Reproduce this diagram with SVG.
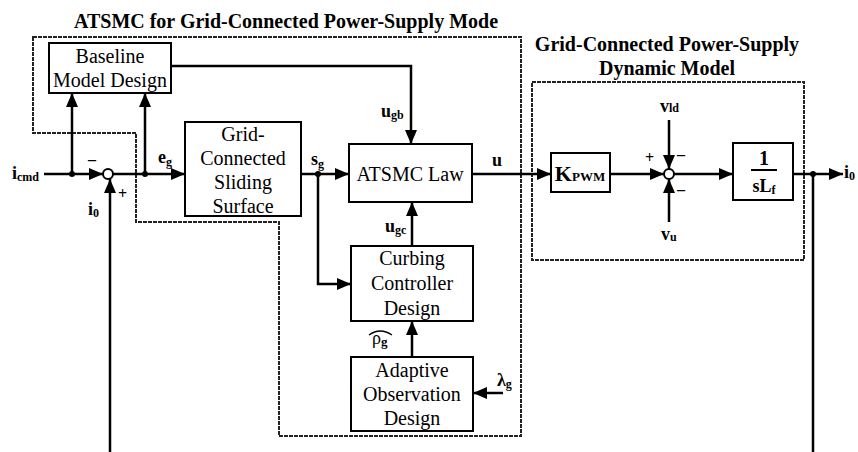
<svg xmlns="http://www.w3.org/2000/svg" width="858" height="452" viewBox="0 0 858 452">
<style>
text{font-family:"Liberation Serif","Times New Roman",serif;fill:#000}
.blk{font-size:20px;text-anchor:middle}
.ttl{font-size:20px;font-weight:bold;text-anchor:middle}
.lbl{font-size:18px;font-weight:bold}
.sub{font-size:12px}
.box{fill:#fff;stroke:#000;stroke-width:2}
.dash{fill:none;stroke:#222;stroke-width:2;stroke-dasharray:4 1}
.wire{fill:none;stroke:#000;stroke-width:2.5}
.arr{fill:none;stroke:#000;stroke-width:2.5;marker-end:url(#ah)}
.sum{fill:#fff;stroke:#000;stroke-width:2}
</style>
<defs>
<marker id="ah" markerUnits="userSpaceOnUse" markerWidth="14" markerHeight="12" viewBox="0 0 14 12" refX="14" refY="6" orient="auto">
<path d="M0,0 L14,6 L0,12 Z" fill="#000"/>
</marker>
</defs>

<g id="frames">
<path class="dash" d="M33,37 H521 V436 H279 V222 H136 V133 H33 Z"/>
<rect class="dash" x="532" y="82" width="272" height="178"/>
<text class="ttl" x="286" y="28">ATSMC for Grid-Connected Power-Supply Mode</text>
<text class="ttl" x="667" y="51">Grid-Connected Power-Supply</text>
<text class="ttl" x="667" y="75">Dynamic Model</text>
</g>

<g id="connectors">
<path class="arr" d="M44,174 H103"/>
<path class="arr" d="M72,174 V93"/>
<path class="arr" d="M145,174 V93"/>
<path class="arr" d="M113,174 H185"/>
<path class="arr" d="M110,452 V179"/>
<path class="arr" d="M171,66 H411 V144"/>
<path class="arr" d="M301,174 H349"/>
<path class="arr" d="M318,174 V284 H351"/>
<path class="arr" d="M412,246 V202"/>
<path class="arr" d="M412,357 V321"/>
<path class="arr" d="M503,393 H473"/>
<path class="arr" d="M472,174 H551"/>
<path class="arr" d="M610,174 H664"/>
<path class="arr" d="M669,120 V169"/>
<path class="arr" d="M669,222 V179"/>
<path class="arr" d="M674,174 H733"/>
<path class="arr" d="M793,174 H843"/>
<path class="wire" d="M813,174 V452"/>
<circle cx="72" cy="174" r="3" fill="#000"/>
<circle cx="145" cy="174" r="3" fill="#000"/>
<circle cx="318" cy="174" r="3" fill="#000"/>
<circle cx="813" cy="174" r="3" fill="#000"/>
</g>

<g id="sum1">
<circle class="sum" cx="108" cy="174" r="5"/>
<text class="lbl" x="88" y="165" style="font-size:16px">–</text>
<text class="lbl" x="118" y="199" style="font-size:16px">+</text>
</g>

<g id="sum2">
<circle class="sum" cx="669" cy="174" r="5"/>
<text class="lbl" x="645" y="163" style="font-size:16px">+</text>
<text class="lbl" x="677" y="160" style="font-size:16px">–</text>
<text class="lbl" x="677" y="195" style="font-size:16px">–</text>
</g>

<g id="baseline">
<rect class="box" x="49" y="43" width="122" height="50"/>
<text class="blk" x="110" y="63">Baseline</text>
<text class="blk" x="110" y="87">Model Design</text>
</g>

<g id="sliding">
<rect class="box" x="185" y="122" width="116" height="94"/>
<text class="blk" x="243" y="141">Grid-</text>
<text class="blk" x="243" y="165">Connected</text>
<text class="blk" x="243" y="189">Sliding</text>
<text class="blk" x="243" y="213">Surface</text>
</g>

<g id="atsmc">
<rect class="box" x="349" y="144" width="123" height="58"/>
<text class="blk" x="410" y="181">ATSMC Law</text>
</g>

<g id="curbing">
<rect class="box" x="351" y="246" width="122" height="75"/>
<text class="blk" x="412" y="265">Curbing</text>
<text class="blk" x="412" y="290">Controller</text>
<text class="blk" x="412" y="315">Design</text>
</g>

<g id="adaptive">
<rect class="box" x="351" y="357" width="122" height="74"/>
<text class="blk" x="412" y="377">Adaptive</text>
<text class="blk" x="412" y="401">Observation</text>
<text class="blk" x="412" y="425">Design</text>
</g>

<g id="kpwm">
<rect class="box" x="551" y="153" width="59" height="39"/>
<text x="580" y="181" style="font-size:22px;font-weight:bold;text-anchor:middle">K<tspan style="font-size:13px">PWM</tspan></text>
</g>

<g id="plant">
<rect class="box" x="733" y="143" width="60" height="57"/>
<text x="764" y="165" style="font-size:20px;font-weight:bold;text-anchor:middle">1</text>
<line x1="751" y1="170" x2="777" y2="170" stroke="#000" stroke-width="2"/>
<text x="764" y="192" style="font-size:18px;font-weight:bold;text-anchor:middle">sL<tspan class="sub" dy="2">f</tspan></text>
</g>

<g id="labels">
<text class="lbl" x="12" y="179">i<tspan class="sub" dy="2">cmd</tspan></text>
<text class="lbl" x="88" y="215">i<tspan class="sub" dy="2">0</tspan></text>
<text class="lbl" x="158" y="163">e<tspan class="sub" dy="3">g</tspan></text>
<text class="lbl" x="311" y="165">s<tspan class="sub" dy="3">g</tspan></text>
<text class="lbl" x="381" y="117">u<tspan class="sub" dy="2">gb</tspan></text>
<text class="lbl" x="492" y="166">u</text>
<text class="lbl" x="385" y="232">u<tspan class="sub" dy="2">gc</tspan></text>
<text x="372" y="344" style="font-size:18px">ρ<tspan style="font-size:13px;font-weight:bold" dy="2">g</tspan></text>
<path d="M369,335 Q380,327 392,335" fill="none" stroke="#000" stroke-width="1.3"/>
<text class="lbl" x="497" y="386">λ<tspan class="sub" dy="2">g</tspan></text>
<text class="lbl" x="660" y="112">v<tspan class="sub" dy="0">ld</tspan></text>
<text class="lbl" x="661" y="240">v<tspan class="sub" dy="1">u</tspan></text>
<text class="lbl" x="844" y="178">i<tspan class="sub" dy="2">0</tspan></text>
</g>
</svg>
